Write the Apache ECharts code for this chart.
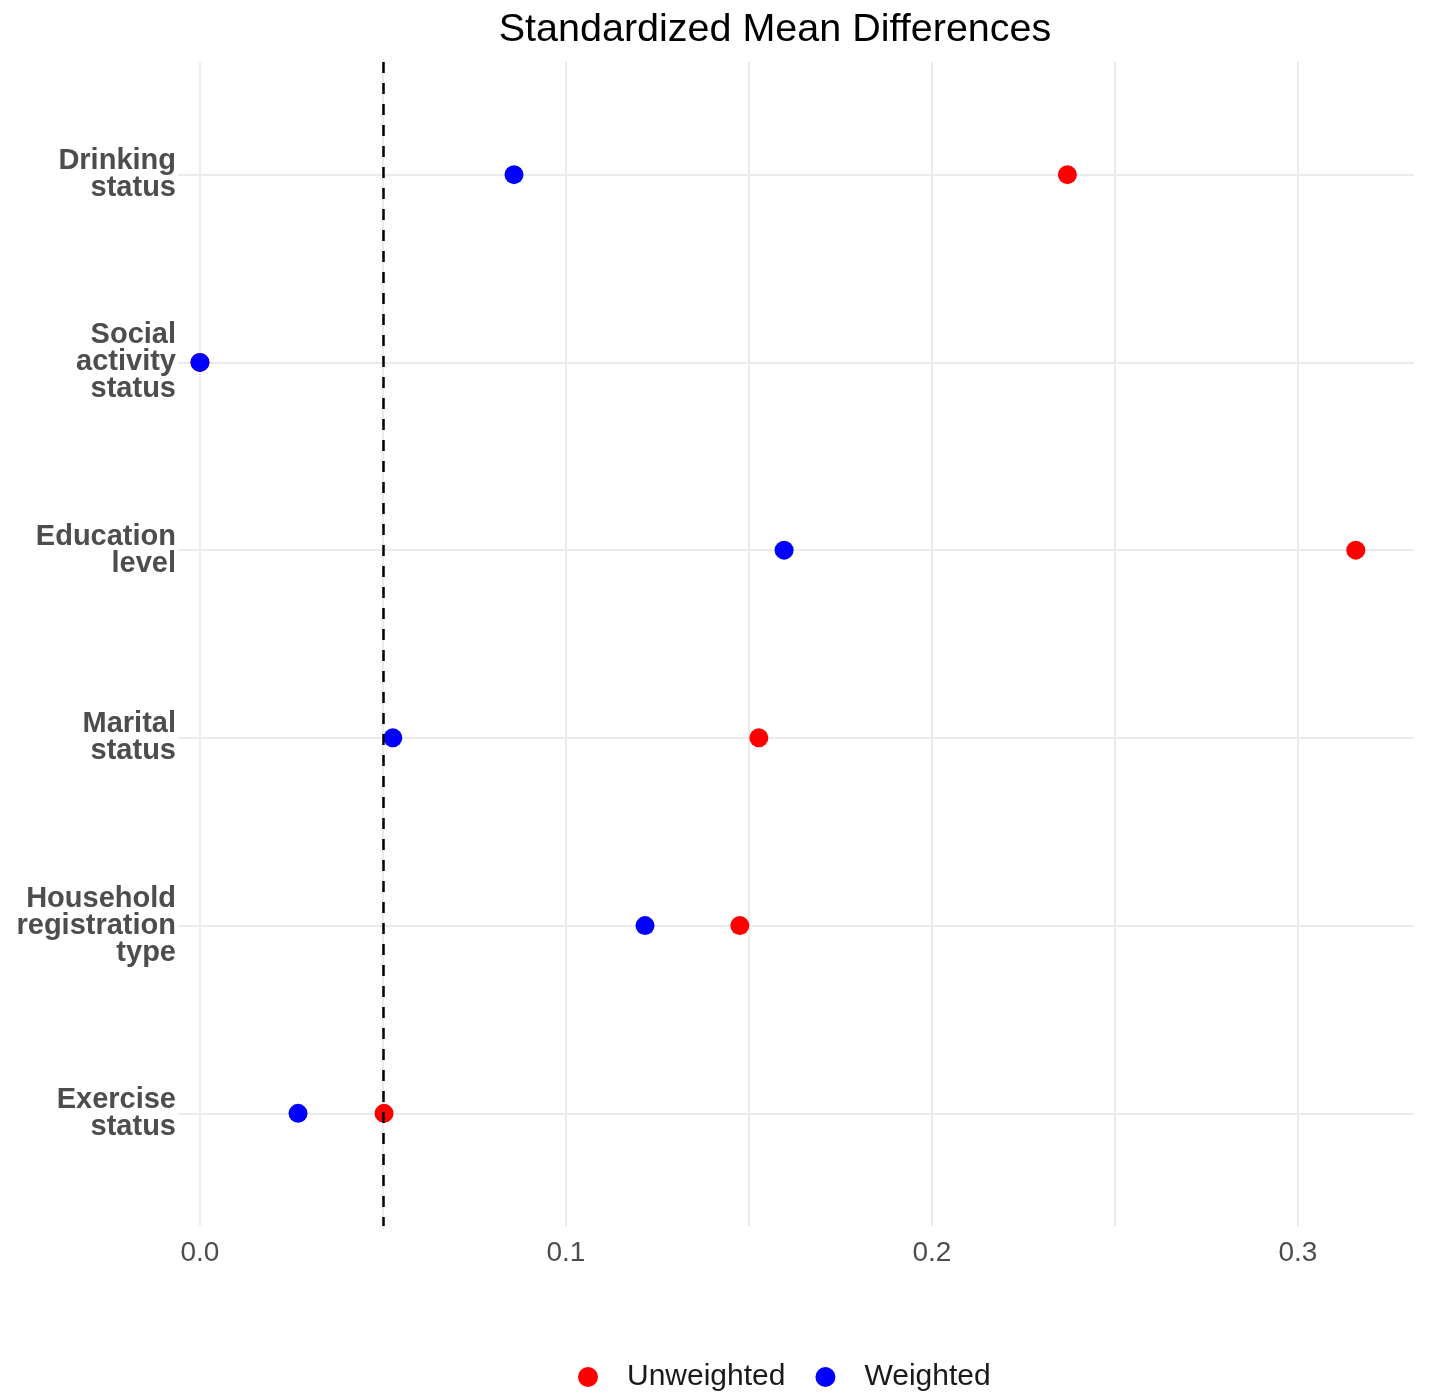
<!DOCTYPE html>
<html>
<head>
<meta charset="utf-8">
<script src="https://cdn.jsdelivr.net/npm/echarts@6/dist/echarts.min.js"></script>
<style>
  html, body { margin: 0; padding: 0; background: #fff; }
  #chart { width: 1430px; height: 1400px; }
</style>
</head>
<body>
<div id="chart"></div>
<script>
// ---- data ----
const covariates = [
  "Drinking\nstatus",
  "Social\nactivity\nstatus",
  "Education\nlevel",
  "Marital\nstatus",
  "Household\nregistration\ntype",
  "Exercise\nstatus",
];
const unweighted = [0.237, 0.0, 0.3158, 0.1527, 0.1475, 0.0503];
const weighted   = [0.0858, 0.0, 0.1596, 0.0527, 0.1216, 0.0268];
const threshold = 0.05;

const xLabelTicks = [0, 0.1, 0.2, 0.3];
const xGridTicks = [0, 0.05, 0.1, 0.15, 0.2, 0.25, 0.3];
const rowTicks = covariates.map((_, i) => i + 1);

// 每行一个 [x, 行号]
const toPoints = vals => vals.map((v, i) => [v, i + 1]);

const chart = echarts.init(document.getElementById("chart"));
const gridLine = { color: "#EBEBEB", width: 2 };

chart.setOption({
  backgroundColor: "#fff",
  animation: false,
  title: {
    text: "Standardized Mean Differences",
    left: 770, top: 5, textAlign: "center",
    textStyle: { fontFamily: "Liberation Sans", fontSize: 39.5, fontWeight: "normal", color: "#000" },
  },
  legend: {
    left: 573, top: 1357,
    icon: "circle", itemWidth: 20, itemHeight: 20, itemGap: 30,
    textStyle: { fontFamily: "Liberation Sans", fontSize: 30, color: "#1a1a1a", padding: [0, 0, 0, 24] },
    data: ["Unweighted", "Weighted"],
  },
  grid: { left: 178, right: 16, top: 62, bottom: 174, containLabel: false },
  xAxis: {
    type: "value", min: -0.006, max: 0.3317,
    axisLine: { show: false },
    axisTick: { show: false, customValues: xGridTicks },
    axisLabel: {
      customValues: xLabelTicks, margin: 13,
      formatter: v => v.toFixed(1),
      fontFamily: "Liberation Sans", fontSize: 28, color: "#4D4D4D",
    },
    splitLine: { show: true, lineStyle: gridLine },
  },
  yAxis: {
    type: "value", min: 0.4, max: 6.6, inverse: true,
    axisLine: { show: false },
    axisTick: { show: false, customValues: rowTicks },
    axisLabel: {
      customValues: rowTicks, margin: 2,
      formatter: v => covariates[Math.round(v) - 1] || "",
      fontFamily: "Liberation Sans", fontSize: 29, fontWeight: "bold",
      color: "#4D4D4D", lineHeight: 27, align: "right",
    },
    splitLine: { show: true, lineStyle: gridLine },
  },
  series: [
    {
      name: "Unweighted", type: "scatter", symbolSize: 19,
      itemStyle: { color: "#FF0000", opacity: 1 },
      data: toPoints(unweighted), z: 2,
    },
    {
      name: "Weighted", type: "scatter", symbolSize: 19,
      itemStyle: { color: "#0000FF", opacity: 1 },
      data: toPoints(weighted), z: 3,
      markLine: {
        silent: true, symbol: "none", label: { show: false }, z: 5,
        lineStyle: { color: "#000", type: [11, 10], width: 2.5 },
        data: [{ xAxis: threshold }],
      },
    },
  ],
});
</script>
</body>
</html>
